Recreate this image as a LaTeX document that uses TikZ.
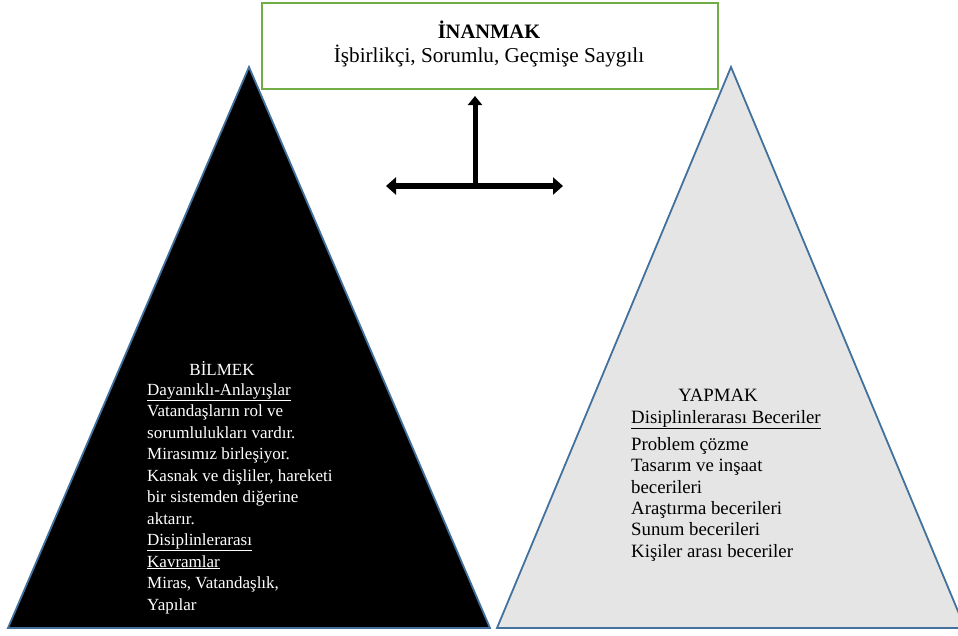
\documentclass[tikz,border=0pt]{standalone}
\usepackage{fontspec}
\setmainfont{Liberation Serif}
\usetikzlibrary{arrows.meta}
\definecolor{edgeblue}{HTML}{41719C}
\definecolor{boxgreen}{HTML}{70AD47}
\definecolor{paleface}{HTML}{E5E5E5}
\tikzset{
  tri/.style={draw=edgeblue, line width=1.8pt, line join=miter},
  txt/.style={inner sep=0pt, align=left},
  lefttxt/.style={txt, font=\fontsize{17}{21.5}\selectfont},
  righttxt/.style={txt, font=\fontsize{18.8}{21.3}\selectfont},
  toptxt/.style={txt, font=\fontsize{21.2}{24}\selectfont},
  bigtip/.tip={Triangle[length=10pt,width=17pt]},
  smalltip/.tip={Triangle[length=9pt,width=14pt]},
}
\begin{document}
\begin{tikzpicture}[x=1pt,y=-1pt]
\useasboundingbox (0,0) rectangle (958,635);

% the two pyramids
\fill[paleface] (497,628) -- (731,67) -- (965,628) -- cycle;
\draw[tri] (497,628) -- (731,67) -- (965,628) -- cycle;
\draw[tri, fill=black] (8,628) -- (249,67) -- (490,628) -- cycle;

% belief box at the top
\node[draw=boxgreen, line width=2pt, fill=white, minimum width=456pt, minimum height=86pt, anchor=north west, inner sep=0pt] (inanmak) at (261,2) {};
\node[toptxt, anchor=base, font=\fontsize{20.5}{24}\selectfont\bfseries] (title) at (489,38) {İNANMAK};
\node[toptxt, anchor=base] (traits) at (489,62) {İşbirlikçi, Sorumlu, Geçmişe Saygılı};

% connecting arrows
\coordinate (hub) at (475,186);
\coordinate (up) at (475,96);
\coordinate (lft) at (386,186);
\coordinate (rgt) at (563,186);
\draw[line width=5.5pt, bigtip-bigtip] (lft) -- (rgt);
\draw[line width=5pt, -smalltip] ([yshift=-2pt]hub) -- (up);

% knowing (anchored on the baseline of the last line)
\node[lefttxt, text=white, anchor=base] (bilmek) at (222,375) {BİLMEK};
\node[lefttxt, text=white, anchor=base west] (bilgi) at (147,610) {\underline{Dayanıklı-Anlayışlar}\\
Vatandaşların rol ve\\
sorumlulukları vardır.\\
Mirasımız birleşiyor.\\
Kasnak ve dişliler, hareketi\\
bir sistemden diğerine\\
aktarır.\\
\underline{Disiplinlerarası}\\
\underline{Kavramlar}\\
Miras, Vatandaşlık,\\
Yapılar};

% doing (anchored on the baseline of the last line)
\node[righttxt, anchor=base] (yapmak) at (718,401) {YAPMAK};
\node[righttxt, anchor=base west] (beceri) at (631,423) {\underline{Disiplinlerarası Beceriler}};
\node[righttxt, anchor=base west] (liste) at (631,557) {Problem çözme\\
Tasarım ve inşaat\\
becerileri\\
Araştırma becerileri\\
Sunum becerileri\\
Kişiler arası beceriler};
\end{tikzpicture}
\end{document}
